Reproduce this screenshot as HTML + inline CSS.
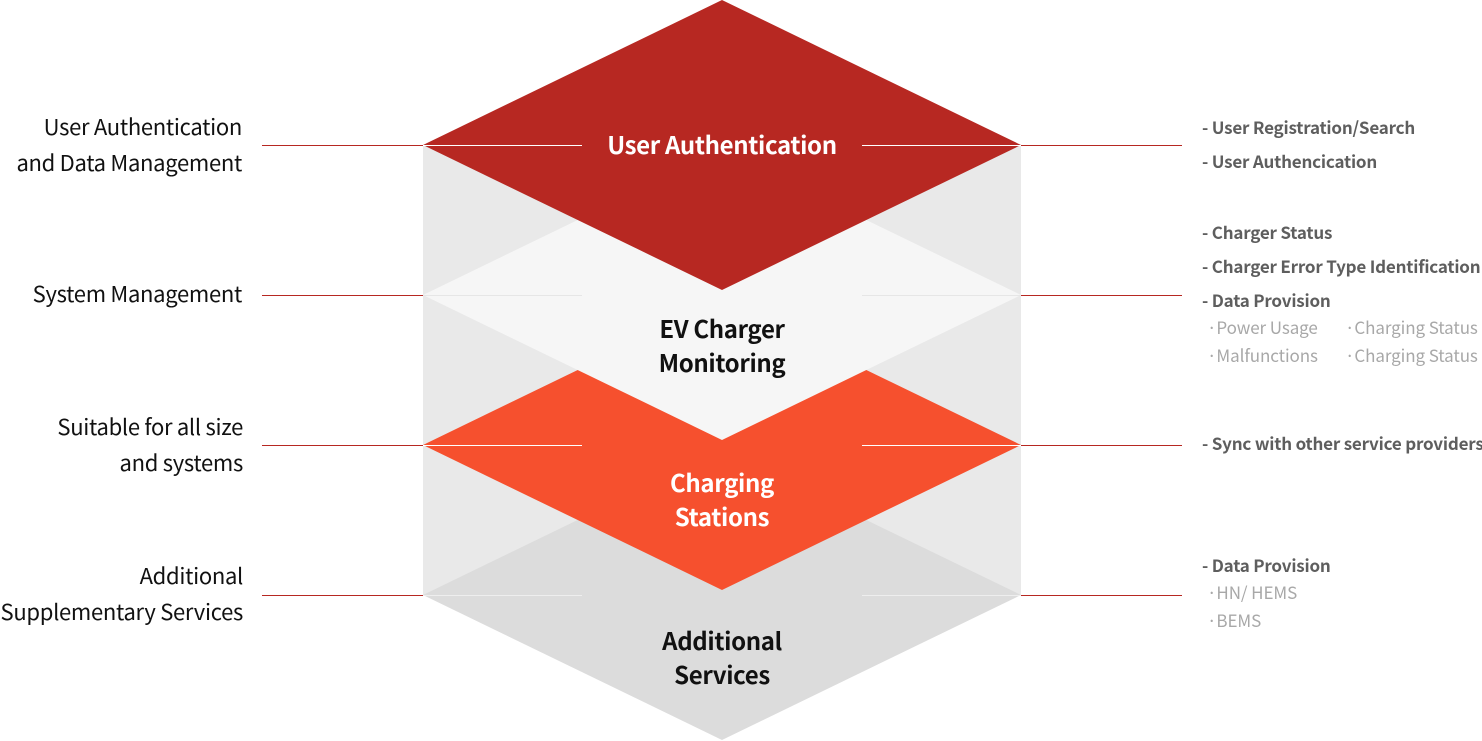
<!DOCTYPE html>
<html>
<head>
<meta charset="utf-8">
<style>
html,body{margin:0;padding:0;background:#fff;}
body{width:1482px;height:741px;position:relative;overflow:hidden;font-family:"Liberation Sans","Noto Sans CJK KR",sans-serif;}
svg{position:absolute;left:0;top:0;}
.t{position:absolute;white-space:nowrap;font-family:"Noto Sans CJK KR","Liberation Sans",sans-serif;}
.l{right:1240px;text-align:right;font-size:22px;color:#111;line-height:36px;letter-spacing:-0.3px;}
.c{left:522px;width:400px;text-align:center;font-size:24px;font-weight:700;line-height:34px;letter-spacing:-0.35px;}
.r{left:1202px;font-size:17px;font-weight:700;color:#5e5e5e;line-height:34px;letter-spacing:-0.2px;}
.s{font-size:17px;color:#a8a8a8;line-height:28px;letter-spacing:-0.1px;}
</style>
</head>
<body>
<svg width="1482" height="741" viewBox="0 0 1482 741">
  <rect x="423" y="145" width="598" height="450" fill="#e9e9e9"/>
  <polygon points="722,450 1021,595 722,740 423,595" fill="#dcdcdc"/>
  <polygon points="722,300 1021,445 722,590 423,445" fill="#f6502e"/>
  <polygon points="722,150 1021,295 722,440 423,295" fill="#f6f6f6"/>
  <polygon points="722,0 1021,145 722,290 423,145" fill="#b72822"/>
  <g stroke="#b72822" stroke-width="1">
    <line x1="262" y1="145.5" x2="423" y2="145.5"/>
    <line x1="1021" y1="145.5" x2="1182" y2="145.5"/>
    <line x1="262" y1="295.5" x2="423" y2="295.5"/>
    <line x1="1021" y1="295.5" x2="1182" y2="295.5"/>
    <line x1="262" y1="445.5" x2="423" y2="445.5"/>
    <line x1="1021" y1="445.5" x2="1182" y2="445.5"/>
    <line x1="262" y1="595.5" x2="423" y2="595.5"/>
    <line x1="1021" y1="595.5" x2="1182" y2="595.5"/>
  </g>
  <g stroke-width="1">
    <line x1="423" y1="145.5" x2="582" y2="145.5" stroke="#ffffff"/>
    <line x1="862" y1="145.5" x2="1021" y2="145.5" stroke="#ffffff"/>
    <line x1="423" y1="295.5" x2="582" y2="295.5" stroke="#e6e6e6"/>
    <line x1="862" y1="295.5" x2="1021" y2="295.5" stroke="#e6e6e6"/>
    <line x1="423" y1="445.5" x2="582" y2="445.5" stroke="#ffffff"/>
    <line x1="862" y1="445.5" x2="1021" y2="445.5" stroke="#ffffff"/>
    <line x1="423" y1="595.5" x2="582" y2="595.5" stroke="#eeeeee"/>
    <line x1="862" y1="595.5" x2="1021" y2="595.5" stroke="#eeeeee"/>
  </g>
</svg>

<!-- left labels -->
<div class="t l" style="top:108px;">User Authentication<br>and Data Management</div>
<div class="t l" style="top:275px;">System Management</div>
<div class="t l" style="top:408px;right:1239px;">Suitable for all size<br>and systems</div>
<div class="t l" style="top:557px;right:1239px;">Additional<br>Supplementary Services</div>

<!-- center labels -->
<div class="t c" style="top:127px;color:#fff;">User Authentication</div>
<div class="t c" style="top:311px;color:#111;">EV Charger<br>Monitoring</div>
<div class="t c" style="top:465px;color:#fff;">Charging<br>Stations</div>
<div class="t c" style="top:623px;color:#111;">Additional<br>Services</div>

<!-- right items -->
<div class="t r" style="top:110px;">- User Registration/Search<br>- User Authencication</div>
<div class="t r" style="top:215px;">- Charger Status<br>- Charger Error Type Identification<br>- Data Provision</div>
<div class="t s" style="left:1207px;top:313px;">·Power Usage<br>·Malfunctions</div>
<div class="t s" style="left:1345px;top:313px;">·Charging Status<br>·Charging Status</div>
<div class="t r" style="top:426px;">- Sync with other service providers</div>
<div class="t r" style="top:548px;">- Data Provision</div>
<div class="t s" style="left:1207px;top:578px;">·HN/ HEMS<br>·BEMS</div>
</body>
</html>
